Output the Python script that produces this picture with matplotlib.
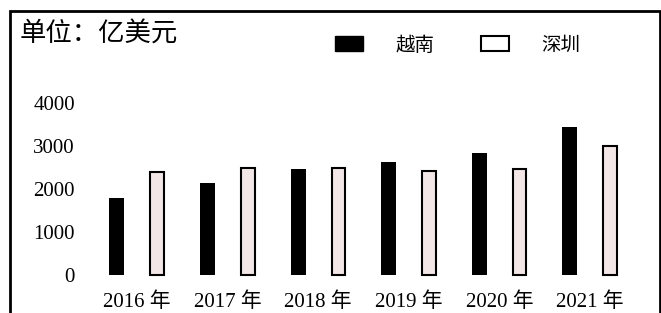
import matplotlib.pyplot as plt
from matplotlib.patches import Rectangle, Patch

years = ['2016 年', '2017 年', '2018 年', '2019 年', '2020 年', '2021 年']
vietnam = [1800, 2130, 2460, 2620, 2840, 3440]
shenzhen = [2400, 2490, 2490, 2420, 2470, 3000]
y_ticks = [0, 1000, 2000, 3000, 4000]

FONTS = ['Liberation Serif', 'Noto Sans CJK SC', 'DejaVu Sans']
plt.rcParams['font.family'] = FONTS


def main():
    fig = plt.figure(figsize=(6.61, 3.13), dpi=100)
    ax = fig.add_axes([75 / 661, 1 - 280 / 313, 580 / 661, 220 / 313])

    x = list(range(len(years)))
    w = 0.166
    ax.bar([i - 0.222 for i in x], vietnam, width=w, color='black')
    ax.bar([i + 0.222 for i in x], shenzhen, width=0.15, color='#f3e6e6',
           edgecolor='black', linewidth=1.5)

    ax.set_xlim(-0.684, 5.717)
    ax.set_ylim(-116, 5000)
    ax.set_xticks(x)
    ax.set_xticklabels(years, fontsize=15)
    ax.set_yticks(y_ticks)
    ax.set_yticklabels([str(t) for t in y_ticks], fontsize=15)
    ax.tick_params(length=0, pad=0)
    ax.tick_params(axis='x', pad=9)
    for s in ax.spines.values():
        s.set_visible(False)

    # outer frame of the scanned figure
    fig.patches.append(Rectangle((10 / 661, -0.1), 650 / 661, 1.1 - 11 / 313,
                                 transform=fig.transFigure, fill=False,
                                 edgecolor='black', linewidth=2))

    fig.text(20 / 661, 1 - 34 / 313, '单位：亿美元', fontsize=19,
             family=['Noto Sans CJK SC', 'DejaVu Sans'], va='center', ha='left')

    handles = [Patch(facecolor='black', edgecolor='black'),
               Patch(facecolor='white', edgecolor='black', linewidth=1.5)]
    fig.legend(handles, ['越南', '深圳'], ncol=2, frameon=False,
               loc='center left', bbox_to_anchor=(335 / 661, 1 - 45 / 313),
               borderpad=0, borderaxespad=0, handlelength=1.45, handleheight=0.82,
               handletextpad=1.65, columnspacing=2.4,
               prop={'family': ['Noto Sans CJK SC', 'DejaVu Sans'], 'size': 14})

    fig.savefig('out.png', dpi=100)


if __name__ == "__main__":
    main()
